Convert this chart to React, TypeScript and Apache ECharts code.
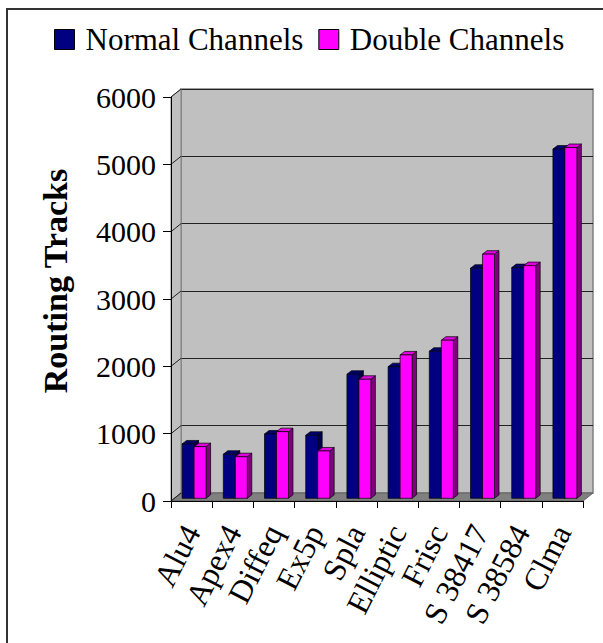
import React, { useEffect, useRef } from "react";
import * as echarts from "echarts";

// Benchmark circuits and routing-track counts
const circuits = ["Alu4", "Apex4", "Diffeq", "Ex5p", "Spla", "Elliptic", "Frisc", "S 38417", "S 38584", "Clma"];
const normalChannels = [807, 654, 955, 936, 1842, 1955, 2184, 3417, 3426, 5186];
const doubleChannels = [767, 618, 990, 703, 1768, 2129, 2348, 3626, 3456, 5210];
const tickValues = [0, 1000, 2000, 3000, 4000, 5000, 6000];
const seriesNames = ["Normal Channels", "Double Channels"];

const SERIF = "Liberation Serif, Times New Roman, serif";

// Plot geometry: front plane and the wall set back by a small depth offset
const FRONT = { left: 171, top: 97, right: 583, bottom: 501 };
const DEPTH_X = 10;
const DEPTH_Y = -8;

export default function App() {
  const ref = useRef<HTMLDivElement>(null);

  useEffect(() => {
    if (!ref.current) return;
    const chart = echarts.init(ref.current, null, { renderer: "svg" });

    // 3D-looking column: front face, top face and right side face
    const makeBar = (slot: number, front: string, top: string, side: string) =>
      (params: any, api: any) => {
        const idx = api.value(0);
        const v = api.value(1);
        const base = api.coord([idx, 0]);
        const peak = api.coord([idx, v]);
        const cw = api.size([1, 0])[0];
        const k = cw / 41.25;
        const c = base[0];
        const lift = -2.7;
        const x0 = c + (-9.5 + slot * 12) * k;
        const x1 = x0 + 12 * k;
        const yb = base[1] + lift;
        const yt = peak[1] + lift;
        const dx = 4.5;
        const dy = -3.5;
        const stroke = { stroke: "#000", lineWidth: 0.7, lineJoin: "round" };
        return {
          type: "group",
          children: [
            {
              type: "polygon",
              shape: { points: [[x1, yb], [x1 + dx, yb + dy], [x1 + dx, yt + dy], [x1, yt]] },
              style: { fill: side, ...stroke },
            },
            {
              type: "polygon",
              shape: { points: [[x0, yt], [x1, yt], [x1 + dx, yt + dy], [x0 + dx, yt + dy]] },
              style: { fill: top, ...stroke },
            },
            {
              type: "polygon",
              shape: { points: [[x0, yb], [x1, yb], [x1, yt], [x0, yt]] },
              style: { fill: front, ...stroke },
            },
          ],
        };
      };

    const option: any = {
      animation: false,
      backgroundColor: "#ffffff",
      textStyle: { fontFamily: SERIF },
      legend: {
        data: seriesNames,
        left: 49,
        top: 19,
        icon: "rect",
        itemWidth: 20,
        itemHeight: 20,
        itemGap: 15,
        itemStyle: { borderColor: "#000", borderWidth: 1 },
        formatter: "{t|{name}}",
        textStyle: {
          fontSize: 31,
          fontFamily: SERIF,
          color: "#000",
          rich: {
            t: { fontSize: 31, fontFamily: SERIF, color: "#000", padding: [0, 0, 0, 6] },
          },
        },
      },
      grid: [
        {
          left: FRONT.left,
          top: FRONT.top,
          right: 603 - FRONT.right,
          bottom: 643 - FRONT.bottom,
          containLabel: false,
          outerBoundsMode: "none",
        },
        {
          left: FRONT.left + DEPTH_X,
          top: FRONT.top + DEPTH_Y,
          right: 603 - FRONT.right - DEPTH_X,
          bottom: 643 - FRONT.bottom - DEPTH_Y,
          containLabel: false,
          outerBoundsMode: "none",
          show: true,
          backgroundColor: "#c0c0c0",
          borderColor: "#808080",
          borderWidth: 1.5,
        },
      ],
      xAxis: [
        {
          type: "category",
          gridIndex: 0,
          data: circuits,
          z: 5,
          axisLine: { lineStyle: { color: "#000", width: 1 } },
          axisTick: { show: true, length: 7, lineStyle: { color: "#000" } },
          axisLabel: {
            interval: 0,
            rotate: 63,
            margin: 26,
            fontSize: 32,
            fontFamily: SERIF,
            color: "#000",
          },
        },
        {
          type: "category",
          gridIndex: 1,
          data: circuits,
          show: false,
        },
      ],
      yAxis: [
        {
          type: "value",
          gridIndex: 0,
          min: 0,
          max: 6000,
          interval: 1000,
          z: 5,
          axisLine: { show: true, lineStyle: { color: "#000", width: 1 } },
          axisTick: { show: true, length: 8, lineStyle: { color: "#000" } },
          axisLabel: {
            fontSize: 30,
            fontFamily: SERIF,
            color: "#000",
            margin: 15,
            formatter: (v: number) => String(v),
          },
          splitLine: { show: false },
        },
        {
          type: "value",
          gridIndex: 1,
          min: 0,
          max: 6000,
          interval: 1000,
          axisLine: { show: false },
          axisTick: { show: false },
          axisLabel: { show: false },
          splitLine: { show: true, lineStyle: { color: "#222", width: 1 } },
        },
      ],
      graphic: [
        {
          type: "rect",
          z: 0,
          shape: { x: 7, y: 9, width: 640, height: 680 },
          style: { fill: "none", stroke: "#333", lineWidth: 2 },
        },
        {
          type: "polygon",
          z: 1,
          shape: {
            points: [
              [FRONT.left, FRONT.top],
              [FRONT.left + DEPTH_X, FRONT.top + DEPTH_Y],
              [FRONT.left + DEPTH_X, FRONT.bottom + DEPTH_Y],
              [FRONT.left, FRONT.bottom],
            ],
          },
          style: { fill: "#c0c0c0", stroke: "#808080", lineWidth: 1 },
        },
        {
          type: "polygon",
          z: 1,
          shape: {
            points: [
              [FRONT.left, FRONT.bottom],
              [FRONT.left + DEPTH_X, FRONT.bottom + DEPTH_Y],
              [FRONT.right + DEPTH_X, FRONT.bottom + DEPTH_Y],
              [FRONT.right, FRONT.bottom],
            ],
          },
          style: { fill: "#808080", stroke: "#606060", lineWidth: 1 },
        },
        {
          type: "text",
          z: 3,
          x: 55,
          y: 281,
          rotation: Math.PI / 2,
          style: {
            text: "Routing Tracks",
            font: `bold 34px ${SERIF}`,
            fill: "#000",
            align: "center",
            verticalAlign: "middle",
          },
        },
      ],
      series: [
        {
          // diagonal gridlines across the left side wall
          name: "wall",
          type: "custom",
          xAxisIndex: 0,
          yAxisIndex: 0,
          z: 2,
          silent: true,
          data: tickValues.map((v) => [0, v]),
          renderItem: (params: any, api: any) => {
            const p = api.coord([0, api.value(1)]);
            const left = params.coordSys.x;
            return {
              type: "line",
              shape: { x1: left, y1: p[1], x2: left + DEPTH_X, y2: p[1] + DEPTH_Y },
              style: { stroke: "#222", lineWidth: 1 },
            };
          },
        },
        {
          name: seriesNames[0],
          type: "custom",
          xAxisIndex: 0,
          yAxisIndex: 0,
          z: 3,
          itemStyle: { color: "#000080" },
          data: normalChannels.map((v, i) => [i, v]),
          encode: { x: 0, y: 1 },
          renderItem: makeBar(0, "#000080", "#000070", "#00004a"),
        },
        {
          name: seriesNames[1],
          type: "custom",
          xAxisIndex: 0,
          yAxisIndex: 0,
          z: 4,
          itemStyle: { color: "#ff00ff" },
          data: doubleChannels.map((v, i) => [i, v]),
          encode: { x: 0, y: 1 },
          renderItem: makeBar(1, "#ff00ff", "#e000e0", "#800080"),
        },
      ],
    };

    chart.setOption(option);
    return () => chart.dispose();
  }, []);

  return (
    <div
      ref={ref}
      style={{ position: "fixed", left: 0, top: 0, width: 603, height: 643 }}
    />
  );
}
